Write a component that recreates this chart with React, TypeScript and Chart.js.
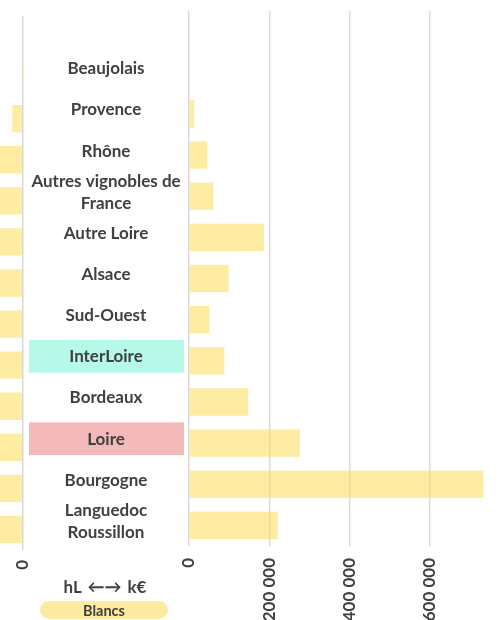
import React, { useEffect, useRef } from "react";
import { Chart, registerables } from "chart.js";
Chart.register(...registerables);

// ---- data ----
const categories: (string | string[])[] = [
  "Beaujolais",
  "Provence",
  "Rhône",
  ["Autres vignobles de", "France"],
  "Autre Loire",
  "Alsace",
  "Sud-Ouest",
  "InterLoire",
  "Bordeaux",
  "Loire",
  "Bourgogne",
  ["Languedoc", "Roussillon"],
];
// k€ (right side)
const valuesKEur = [2000, 13000, 45500, 61000, 187000, 98500, 50500, 88000, 147500, 277000, 733500, 221000];
// hL (left side, mostly cut off in the view)
const valuesHL = [2500, 27000, 110000, 150000, 520000, 260000, 130000, 240000, 380000, 760000, 1300000, 700000];
const tickValuesKEur = [0, 200000, 400000, 600000];
const tickValuesHL = [0, 200000, 400000, 600000, 800000, 1000000, 1200000, 1400000];
const highlighted: Record<string, string> = { InterLoire: "#B6F9E9", Loire: "#F4B9BA" };
const axisText = "hL ←→ k€";
const legendText = "Blancs";

const FAMILY = "Lato, 'Open Sans', sans-serif";
const TEXT = "#404040";
const BAR = "rgba(253, 220, 88, 0.55)";
const GRID = "#d9d9d9";
const CAT_SIZE = 17;

const fmt = (v: number) => String(Math.round(v)).replace(/\B(?=(\d{3})+(?!\d))/g, " ");
const labelName = (l: string | string[]) => (Array.isArray(l) ? l.join(" ") : l);

export default function App() {
  const leftRef = useRef<HTMLCanvasElement>(null);
  const rightRef = useRef<HTMLCanvasElement>(null);

  useEffect(() => {
    const labels = ["", ...categories];
    const catFont = { family: FAMILY, size: CAT_SIZE, weight: "bold" as const };

    // measure widest label line to centre the label column
    const mctx = document.createElement("canvas").getContext("2d")!;
    mctx.font = `bold ${CAT_SIZE}px ${FAMILY}`;
    let widest = 0;
    categories.forEach((c) => {
      (Array.isArray(c) ? c : [c]).forEach((line) => {
        widest = Math.max(widest, mctx.measureText(line).width);
      });
    });
    const colRight = 189;
    const colCenter = 106;
    const pad = colRight - colCenter - widest / 2;

    const highlightPlugin = {
      id: "highlight",
      beforeDraw(chart: any) {
        const y = chart.scales.y;
        const ctx = chart.ctx;
        ctx.save();
        labels.forEach((l, i) => {
          const color = highlighted[labelName(l)];
          if (!color) return;
          const cy = y.getPixelForValue(i) - 4.4;
          ctx.fillStyle = color;
          ctx.fillRect(29, cy - 16.4, 155, 32.8);
        });
        ctx.restore();
      },
    };

    const noPadX = (h: number) => (s: any) => {
      s.height = h;
      s.paddingLeft = 0;
      s.paddingRight = 0;
    };

    const right = new Chart(rightRef.current!, {
      type: "bar",
      data: {
        labels,
        datasets: [
          {
            data: [null, ...valuesKEur],
            backgroundColor: BAR,
            barPercentage: 0.666,
            categoryPercentage: 1,
          },
        ],
      },
      options: {
        indexAxis: "y",
        animation: false,
        responsive: false,
        maintainAspectRatio: false,
        layout: { padding: { left: 23, top: 11, right: 0, bottom: 0 } },
        plugins: { legend: { display: false }, tooltip: { enabled: false } },
        scales: {
          x: {
            min: 0,
            max: 780000,
            afterBuildTicks: (s: any) => {
              s.ticks = tickValuesKEur.map((v) => ({ value: v }));
            },
            afterFit: noPadX(74),
            grid: { color: GRID, lineWidth: 1.5, drawTicks: false },
            border: { display: false },
            ticks: {
              minRotation: 90,
              maxRotation: 90,
              padding: 12,
              color: TEXT,
              font: catFont,
              callback: (v: any) => fmt(Number(v)),
            },
          },
          y: {
            afterFit: (s: any) => {
              s.width = 166;
              s.paddingTop = 0;
              s.paddingBottom = 0;
            },
            grid: { display: false, drawTicks: false },
            border: { display: false },
            ticks: {
              crossAlign: "center",
              padding: pad,
              labelOffset: -4,
              color: TEXT,
              font: { ...catFont, lineHeight: 1.3 },
              autoSkip: false,
            },
          },
        },
      },
      plugins: [highlightPlugin],
    } as any);

    const left = new Chart(leftRef.current!, {
      type: "bar",
      data: {
        labels,
        datasets: [
          {
            data: [null, ...valuesHL],
            backgroundColor: BAR,
            barPercentage: 0.666,
            categoryPercentage: 1,
          },
        ],
      },
      options: {
        indexAxis: "y",
        animation: false,
        responsive: false,
        maintainAspectRatio: false,
        layout: { padding: { left: 0, top: 16, right: 10, bottom: 0 } },
        plugins: { legend: { display: false }, tooltip: { enabled: false } },
        scales: {
          x: {
            reverse: true,
            min: 0,
            max: 1450000,
            afterBuildTicks: (s: any) => {
              s.ticks = tickValuesHL.map((v) => ({ value: v }));
            },
            afterFit: noPadX(70),
            grid: { color: GRID, lineWidth: 1.5, drawTicks: false },
            border: { display: false },
            ticks: {
              minRotation: 90,
              maxRotation: 90,
              padding: 10,
              color: TEXT,
              font: catFont,
              callback: (v: any) => fmt(Number(v)),
            },
          },
          y: { display: false },
        },
      },
    } as any);

    return () => {
      right.destroy();
      left.destroy();
    };
  }, []);

  const LW = 590;
  return (
    <div
      style={{
        position: "fixed",
        left: 0,
        top: 0,
        width: 502,
        height: 620,
        overflow: "hidden",
        background: "#fff",
        fontFamily: FAMILY,
      }}
    >
      <canvas
        ref={leftRef}
        width={LW}
        height={620}
        style={{ position: "absolute", left: 33 - LW, top: 0, width: LW, height: 620 }}
      />
      <canvas
        ref={rightRef}
        width={502}
        height={620}
        style={{ position: "absolute", left: 0, top: 0, width: 502, height: 620 }}
      />
      <div
        style={{
          position: "absolute",
          left: 40,
          top: 576,
          width: 130,
          textAlign: "center",
          fontWeight: "bold",
          fontSize: 17,
          lineHeight: "21px",
          color: TEXT,
          whiteSpace: "pre",
          wordSpacing: 2,
        }}
      >
        {axisText}
      </div>
      <div
        style={{
          position: "absolute",
          left: 40,
          top: 601,
          width: 128,
          height: 18,
          borderRadius: 9,
          background: "#FEE9A0",
          textAlign: "center",
          fontWeight: "bold",
          fontSize: 14.5,
          lineHeight: "19px",
          color: TEXT,
        }}
      >
        {legendText}
      </div>
    </div>
  );
}
